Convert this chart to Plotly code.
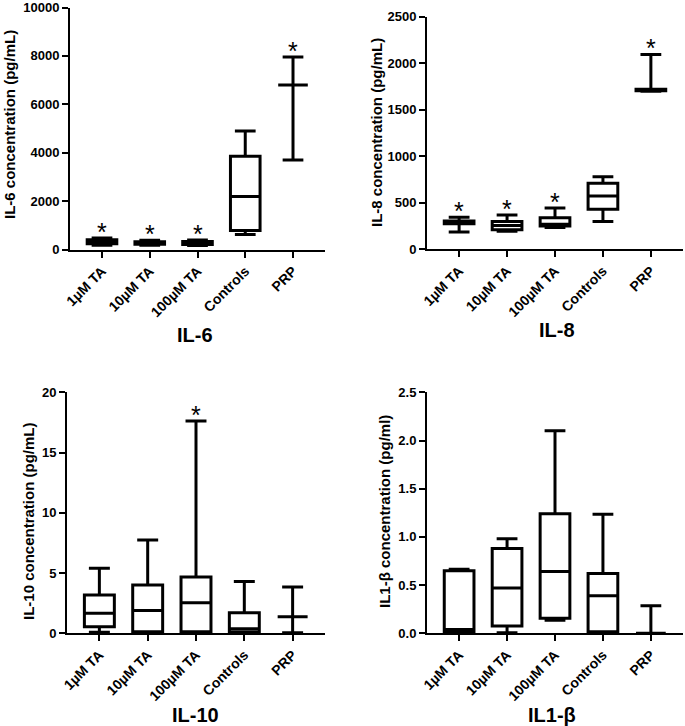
import plotly.graph_objects as go

W, H = 685, 726

categories = ["1µM TA", "10µM TA", "100µM TA", "Controls", "PRP"]

# IL-6 (pg/mL)
il6_lower = [180, 180, 170, 615, 3700]
il6_q1 = [240, 215, 210, 780, 6800]
il6_median = [320, 260, 260, 2190, 6800]
il6_q3 = [400, 320, 330, 3850, 6800]
il6_upper = [480, 380, 390, 4900, 7950]
il6_sig = [True, True, True, False, True]

# IL-8 (pg/mL)
il8_lower = [185, 195, 235, 300, 1700]
il8_q1 = [275, 210, 250, 430, 1705]
il8_median = [290, 255, 270, 573, 1712]
il8_q3 = [305, 300, 340, 710, 1720]
il8_upper = [345, 370, 445, 780, 2095]
il8_sig = [True, True, True, False, True]

# IL-10 (pg/mL)
il10_lower = [0.08, 0.05, 0.05, 0.05, 0.05]
il10_q1 = [0.55, 0.13, 0.13, 0.1, 1.38]
il10_median = [1.66, 1.9, 2.54, 0.38, 1.38]
il10_q3 = [3.18, 4.0, 4.68, 1.7, 1.38]
il10_upper = [5.4, 7.75, 17.62, 4.3, 3.85]
il10_sig = [False, False, True, False, False]

# IL1-beta (pg/ml)
il1b_lower = [0.007, 0.007, 0.135, 0.007, 0.0]
il1b_q1 = [0.015, 0.075, 0.155, 0.015, 0.0]
il1b_median = [0.04, 0.47, 0.64, 0.39, 0.0]
il1b_q3 = [0.65, 0.88, 1.24, 0.62, 0.0]
il1b_upper = [0.665, 0.98, 2.10, 1.235, 0.285]
il1b_sig = [False, False, False, False, False]

panels = [
    dict(name="IL-6", ytitle="IL-6 concentration (pg/mL)", lower=il6_lower, q1=il6_q1,
         median=il6_median, q3=il6_q3, upper=il6_upper, sig=il6_sig,
         yrange=[0, 10000], tickvals=[0, 2000, 4000, 6000, 8000, 10000], fmt="d",
         xdom=(70, 325), ydom=(7.5, 249.5), ytx=9, yty=125, tx=195, ty=335),
    dict(name="IL-8", ytitle="IL-8 concentration (pg/mL)", lower=il8_lower, q1=il8_q1,
         median=il8_median, q3=il8_q3, upper=il8_upper, sig=il8_sig,
         yrange=[0, 2500], tickvals=[0, 500, 1000, 1500, 2000, 2500], fmt="d",
         xdom=(427, 683), ydom=(16.7, 249.3), ytx=376, yty=133, tx=557, ty=330),
    dict(name="IL-10", ytitle="IL-10 concentration (pg/mL)", lower=il10_lower, q1=il10_q1,
         median=il10_median, q3=il10_q3, upper=il10_upper, sig=il10_sig,
         yrange=[0, 20], tickvals=[0, 5, 10, 15, 20], fmt="d",
         xdom=(67, 325), ydom=(392.3, 633.3), ytx=28, yty=521, tx=196, ty=715),
    dict(name="IL1-β", ytitle="IL1-β concentration (pg/ml)", lower=il1b_lower, q1=il1b_q1,
         median=il1b_median, q3=il1b_q3, upper=il1b_upper, sig=il1b_sig,
         yrange=[0, 2.5], tickvals=[0, 0.5, 1.0, 1.5, 2.0, 2.5], fmt=".1f",
         xdom=(427, 683), ydom=(392.3, 633.3), ytx=384, yty=512, tx=552, ty=715),
]

FONT = "Liberation Sans, Arial, Helvetica, sans-serif"

fig = go.Figure()
annotations = []
layout = {}

for i, p in enumerate(panels):
    n = "" if i == 0 else str(i + 1)
    xa, ya = "x" + n, "y" + n
    fig.add_trace(go.Box(
        x=categories, q1=p["q1"], median=p["median"], q3=p["q3"],
        lowerfence=p["lower"], upperfence=p["upper"],
        xaxis=xa, yaxis=ya, width=0.62, whiskerwidth=0.7,
        line=dict(color="black", width=3), fillcolor="white",
        boxpoints=False, showlegend=False, hoverinfo="skip",
    ))
    layout["xaxis" + n] = dict(
        domain=[p["xdom"][0] / W, p["xdom"][1] / W], anchor=ya,
        type="category", range=[-0.67, 4.67],
        showline=True, linecolor="black", linewidth=2,
        ticks="outside", ticklen=6, tickwidth=2, tickcolor="black",
        tickangle=-45, showgrid=False, zeroline=False,
        ticklabeloverflow="allow",
        tickfont=dict(family=FONT, size=14, color="black", weight="bold"),
    )
    layout["yaxis" + n] = dict(
        domain=[1 - p["ydom"][1] / H, 1 - p["ydom"][0] / H], anchor=xa,
        range=p["yrange"], tickvals=p["tickvals"], tickformat=p["fmt"],
        showline=True, linecolor="black", linewidth=2,
        ticks="outside", ticklen=6, tickwidth=2, tickcolor="black",
        showgrid=False, zeroline=False, ticklabeloverflow="allow",
        tickfont=dict(family=FONT, size=13, color="black", weight="bold"),
    )
    # y-axis title
    annotations.append(dict(
        text=p["ytitle"], xref="paper", yref="paper",
        x=p["ytx"] / W, y=1 - p["yty"] / H, textangle=-90,
        xanchor="center", yanchor="middle", showarrow=False,
        font=dict(family=FONT, size=15, color="black", weight="bold"),
    ))
    # panel title
    annotations.append(dict(
        text=p["name"], xref="paper", yref="paper",
        x=p["tx"] / W, y=1 - p["ty"] / H,
        xanchor="center", yanchor="middle", showarrow=False,
        font=dict(family=FONT, size=20, color="black", weight="bold"),
    ))
    # significance asterisks
    for c, up, s in zip(categories, p["upper"], p["sig"]):
        if s:
            annotations.append(dict(
                text="*", x=c, y=up, xref=xa, yref=ya,
                xanchor="center", yanchor="middle", yshift=6, showarrow=False,
                font=dict(family=FONT, size=25, color="black"),
            ))

fig.update_layout(
    width=W, height=H,
    margin=dict(l=0, r=0, t=0, b=0, autoexpand=False),
    paper_bgcolor="white", plot_bgcolor="white",
    annotations=annotations, showlegend=False,
    **layout,
)

fig.write_html("out.html", config={"displayModeBar": False},
               post_script="document.body.style.margin='0';")
